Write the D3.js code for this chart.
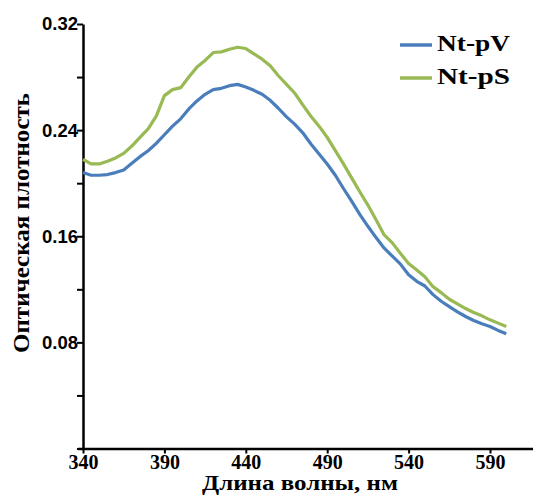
<!DOCTYPE html>
<html>
<head>
<meta charset="utf-8">
<script src="https://cdn.jsdelivr.net/npm/d3@7"></script>
<style>
  body { margin: 0; background: #fff; }
  svg { display: block; }
</style>
</head>
<body>
<script>
// wavelengths, nm
var wavelengths = [340, 345, 350, 355, 360, 365, 370, 375, 380, 385, 390, 395, 400, 405, 410, 415, 420, 425, 430, 435,
    440, 445, 450, 455, 460, 465, 470, 475, 480, 485, 490, 495, 500, 505, 510, 515, 520, 525, 530, 535,
    540, 545, 550, 555, 560, 565, 570, 575, 580, 585, 590, 595, 600];

var pV = [0.208, 0.206, 0.206, 0.2065, 0.208, 0.210, 0.215, 0.220, 0.2245, 0.230, 0.2365, 0.243, 0.2485, 0.256, 0.262, 0.267, 0.2705, 0.2715, 0.2735, 0.2745,
    0.2725, 0.270, 0.267, 0.2625, 0.2565, 0.250, 0.2445, 0.238, 0.2295, 0.222, 0.2145, 0.206, 0.196, 0.1865, 0.1765, 0.1675, 0.159, 0.151, 0.145, 0.139,
    0.131, 0.126, 0.1225, 0.116, 0.111, 0.107, 0.103, 0.0995, 0.0965, 0.094, 0.092, 0.089, 0.0865];

var pS = [0.218, 0.2145, 0.2145, 0.2165, 0.219, 0.2225, 0.228, 0.2345, 0.241, 0.2505, 0.266, 0.2705, 0.272, 0.280, 0.2875, 0.2925, 0.2985, 0.299, 0.301, 0.3025,
    0.3015, 0.2975, 0.2935, 0.2885, 0.281, 0.2745, 0.268, 0.259, 0.2505, 0.243, 0.2345, 0.2245, 0.2145, 0.204, 0.1935, 0.1835, 0.1725, 0.161, 0.155, 0.147,
    0.1395, 0.1345, 0.1295, 0.122, 0.1175, 0.1125, 0.109, 0.1055, 0.1025, 0.1, 0.097, 0.0945, 0.092];

var seriesNames = ["Nt-pV", "Nt-pS"];
var xTicks = [340, 390, 440, 490, 540, 590];
var yTicks = [0, 0.04, 0.08, 0.12, 0.16, 0.20, 0.24, 0.28, 0.32];
var yLabeled = [0.08, 0.16, 0.24, 0.32];

var width = 533, height = 497;
var colors = ["#4a7ebb", "#98b954"];

var svg = d3.select("body").append("svg")
    .attr("width", width)
    .attr("height", height);

var x = d3.scaleLinear().domain([340, 590]).range([83, 490]);
var y = d3.scaleLinear().domain([0, 0.32]).range([448.5, 24]);

// x axis runs on past the last tick to the edge
var xAxis = d3.axisBottom(x).tickValues(xTicks).tickSize(5).tickSizeOuter(0);
var gx = svg.append("g")
    .attr("transform", "translate(0," + y(0) + ")")
    .call(xAxis);
gx.select(".domain").attr("d", "M" + (x(340) - 5) + ",0.5H" + width);
gx.selectAll(".tick line").attr("y1", -0.5).attr("stroke-width", 2);
gx.selectAll(".tick text")
    .attr("y", 6)
    .style("font-family", "'Liberation Serif', 'Times New Roman', serif")
    .style("font-weight", "bold")
    .style("font-size", "20px")
    .attr("fill", "#000");

var yAxis = d3.axisLeft(y).tickValues(yTicks).tickSize(6).tickSizeOuter(0)
    .tickFormat(function(d) {
        return yLabeled.some(function(v) { return Math.abs(v - d) < 1e-9; }) ? d3.format(".2f")(d) : "";
    });
var gy = svg.append("g")
    .attr("transform", "translate(" + x(340) + ",0)")
    .call(yAxis);
gy.selectAll(".tick line").attr("stroke-width", 2);
gy.selectAll(".tick text")
    .attr("x", -5)
    .style("font-family", "'Liberation Sans', Arial, sans-serif")
    .style("font-weight", "bold")
    .style("font-size", "18.5px")
    .attr("fill", "#000");

svg.selectAll(".domain").attr("stroke", "#000").attr("stroke-width", 2.5);
svg.selectAll(".tick line").attr("stroke", "#000");

var line = d3.line()
    .x(function(d) { return x(d[0]); })
    .y(function(d) { return y(d[1]); });

[pV, pS].forEach(function(vals, i) {
    svg.append("path")
        .datum(wavelengths.map(function(w, j) { return [w, vals[j]]; }))
        .attr("d", line)
        .attr("fill", "none")
        .attr("stroke", colors[i])
        .attr("stroke-width", 3.2)
        .attr("stroke-linejoin", "round");
});

// legend
var legend = svg.append("g").attr("class", "legend");
seriesNames.forEach(function(name, i) {
    var ly = 45 + i * 33;
    legend.append("line")
        .attr("x1", 400).attr("x2", 432)
        .attr("y1", ly).attr("y2", ly)
        .attr("stroke", colors[i])
        .attr("stroke-width", 3.5);
    legend.append("text")
        .attr("x", 437)
        .attr("y", ly + 6)
        .attr("textLength", 73)
        .attr("lengthAdjust", "spacingAndGlyphs")
        .style("font-family", "'Liberation Serif', 'Times New Roman', serif")
        .style("font-weight", "bold")
        .style("font-size", "24px")
        .text(name);
});

// axis titles
svg.append("text")
    .attr("x", 300)
    .attr("y", 490)
    .attr("text-anchor", "middle")
    .attr("textLength", 196)
    .attr("lengthAdjust", "spacingAndGlyphs")
    .style("font-family", "'Liberation Serif', 'Times New Roman', serif")
    .style("font-weight", "bold")
    .style("font-size", "21px")
    .text("Длина волны, нм");

svg.append("text")
    .attr("transform", "translate(29,223) rotate(-90)")
    .attr("text-anchor", "middle")
    .attr("textLength", 260)
    .attr("lengthAdjust", "spacingAndGlyphs")
    .style("font-family", "'Liberation Serif', 'Times New Roman', serif")
    .style("font-weight", "bold")
    .style("font-size", "23px")
    .text("Оптическая плотность");
</script>
</body>
</html>
